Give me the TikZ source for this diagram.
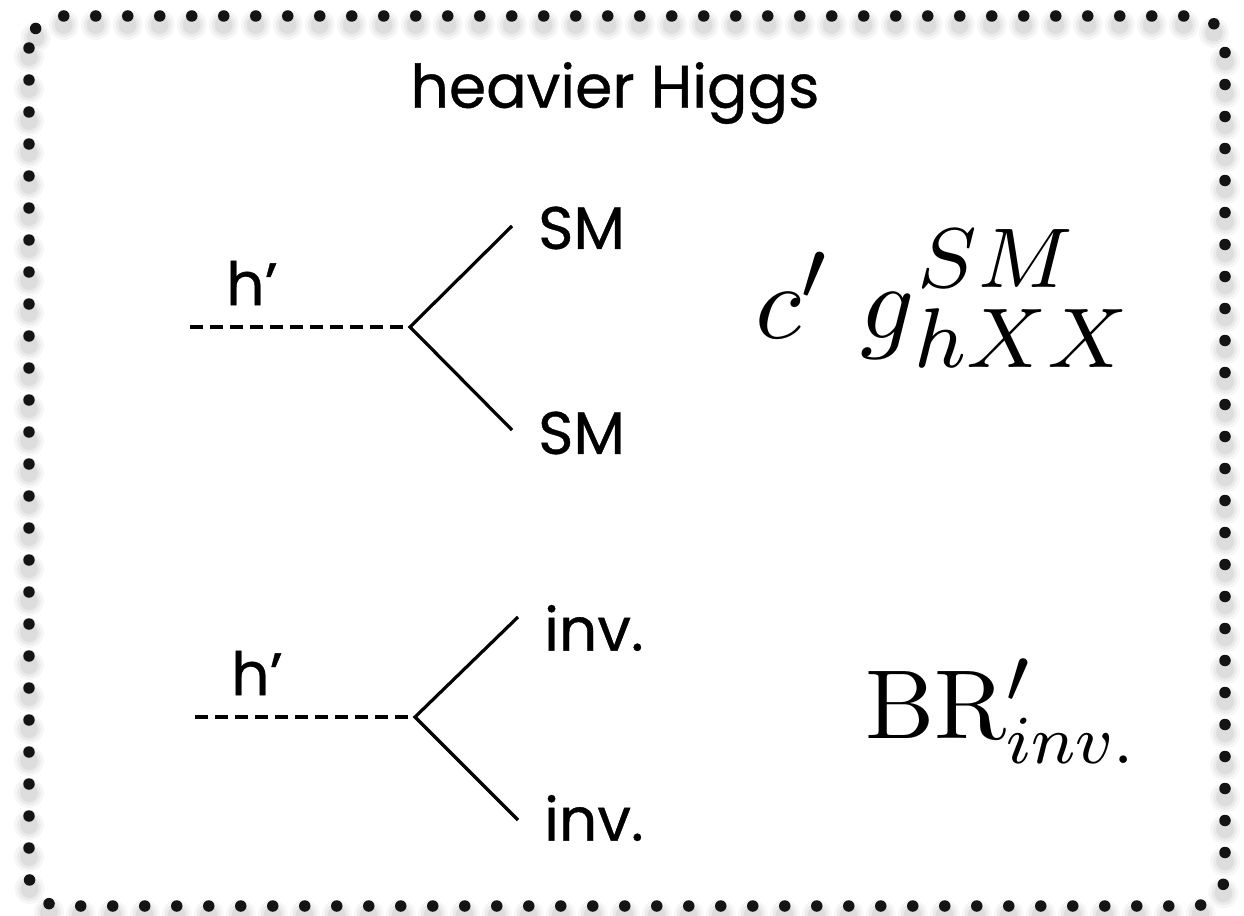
\documentclass[tikz,border=0pt]{standalone}
\usepackage[no-math]{fontspec}
\setmainfont{Poppins}[FakeBold=0.6]
\DeclareMathSizes{10}{10}{8}{6}
\begin{document}
\begin{tikzpicture}[x=1pt,y=-1pt,
  prop/.style={line width=3.2pt},
  scal/.style={line width=3.2pt, dash pattern=on 13pt off 7pt},
  lbl/.style={font=\fontsize{60}{68}\selectfont, inner sep=0pt},
  mth/.style={inner sep=0pt, anchor=base west},
  border/.style={line width=11.5pt, line cap=round, dash pattern=on 0pt off 32pt, rounded corners=32pt}]
\useasboundingbox (0,0) rectangle (1244,915);
% shadow
\foreach \w/\o in {30/0.035,24/0.045,18/0.06}
  \draw[border, line width=\w pt, black, opacity=\o] (29,25) rectangle (1225,915);
\draw[border, black!92] (29,16) rectangle (1225,906);
\node[lbl] (title) at (615,93) {heavier Higgs};
% first diagram
\coordinate (a1) at (190,327);
\coordinate (v1) at (410,327);
\coordinate (t1) at (512,226);
\coordinate (b1) at (512,430);
\draw[scal] (a1) -- (v1);
\draw[prop] (t1) -- (v1) -- (b1);
\node[lbl] (h1) at (252,283) {h’};
\node[lbl, anchor=west] (sm1) at (538,228) {SM};
\node[lbl, anchor=west] (sm2) at (538,433) {SM};
\node[mth] (coup) at (755,338) {\scalebox{10.6}{$c'\; g\kern0.3pt\rlap{\raisebox{4.8pt}{$\scriptstyle SM$}}\kern-0.3pt\raisebox{-2.8pt}{$\scriptstyle hXX$}$}};
% second diagram
\coordinate (a2) at (195,717);
\coordinate (v2) at (415,717);
\coordinate (t2) at (518,617);
\coordinate (b2) at (518,820);
\draw[scal] (a2) -- (v2);
\draw[prop] (t2) -- (v2) -- (b2);
\node[lbl] (h2) at (257,673) {h’};
\node[lbl, anchor=west] (inv1) at (544,628) {inv.};
\node[lbl, anchor=west] (inv2) at (544,818) {inv.};
\node[mth] (br) at (865,738) {\scalebox{9.8}{$\mathrm{BR}'_{\scalebox{0.875}{$\scriptstyle inv.$}}$}};
\end{tikzpicture}
\end{document}
